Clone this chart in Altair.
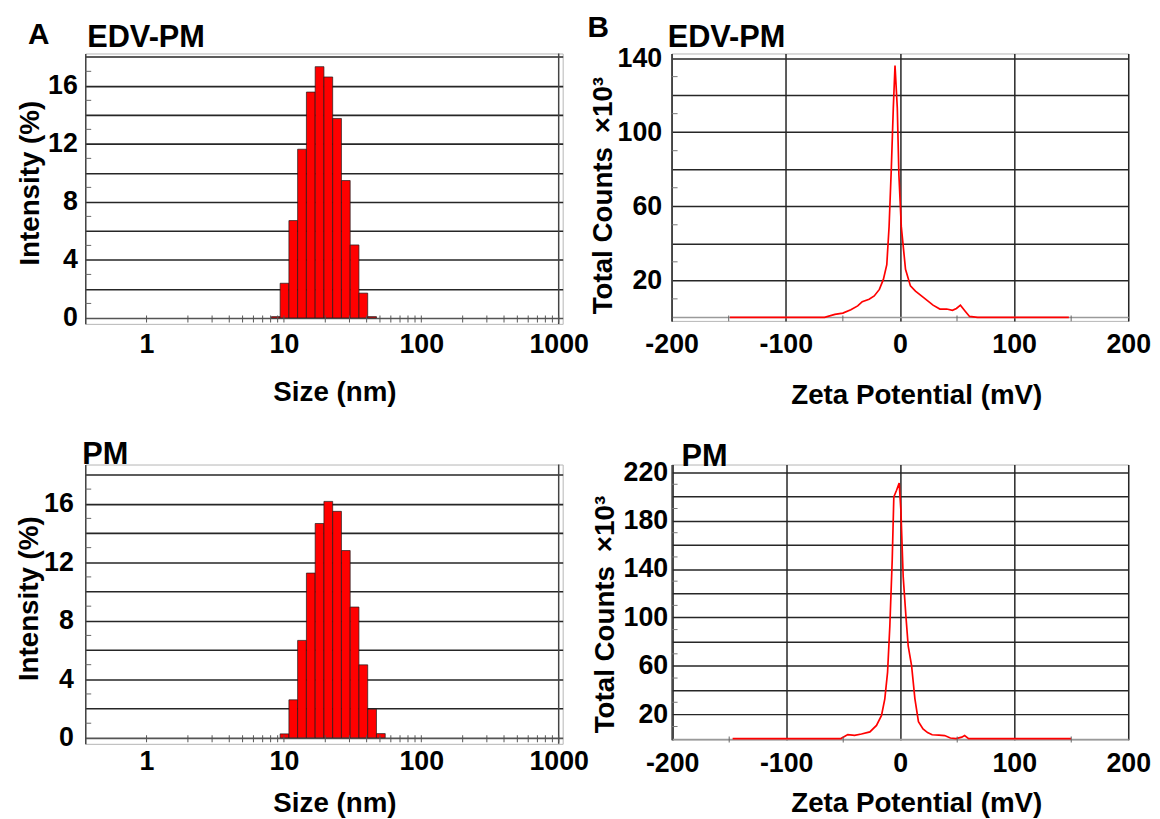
import altair as alt
import pandas as pd

FONT = "Liberation Sans"
RED = "#ff0000"
GRID = "#262626"

# ---------------- data ----------------
# DLS size classes (nm) and intensity (%)
edv_size = [8.72, 10.10, 11.70, 13.54, 15.69, 18.17, 21.04, 24.36, 28.21, 32.67, 37.84, 43.82]
edv_intensity = [0.09, 2.39, 6.71, 11.63, 15.57, 17.32, 16.61, 13.75, 9.47, 5.03, 1.71, 0.09]
pm_size = [10.10, 11.70, 13.54, 15.69, 18.17, 21.04, 24.36, 28.21, 32.67, 37.84, 43.82, 50.75]
pm_intensity = [0.27, 2.60, 6.66, 11.26, 14.65, 16.16, 15.48, 12.80, 8.94, 4.99, 1.96, 0.29]
BIN_HALF = 1.0762  # half-width ratio of a log-spaced size class

# Zeta potential (mV) and total counts (x10^3)
edv_zeta = [-149, -66, -57, -50, -43, -37, -33, -27, -22.5, -18, -14.5, -11.5, -9.5, -7.5, -5.8,
            -4.3, -2.3, -0.9, 1.2, 4.9, 9.2, 13.6, 20.8, 29, 35, 41, 46, 49.5, 53, 57, 61, 68, 148]
edv_counts = [0, 0, 1.6, 2.3, 4.1, 6.2, 8.5, 9.8, 11.6, 15.1, 20.5, 28.5, 48.9, 81, 113,
              136, 113, 77, 49, 26, 17, 14.2, 10.7, 6.6, 4.5, 4.5, 3.8, 4.8, 6.6, 3.5, 0.5, 0, 0]
pm_zeta = [-147, -52, -46, -40, -34, -26.6, -20.8, -16.4, -13.5, -11.1, -9.1, -7.0, -5.6, -3.2,
           -0.9, 0.6, 2.6, 5.0, 7.0, 10.0, 12.9, 16, 20, 24, 28, 34, 39, 44, 49, 54, 56.5, 60, 150]
pm_counts = [0, 0, 3.3, 2.7, 3.8, 5.5, 10.9, 19.1, 32.8, 54.7, 92.9, 147.6, 199.5, 205,
             211, 188.6, 133.9, 101.1, 76.5, 60.1, 32.8, 14, 8, 5, 3.2, 2.8, 2.5, 0.5, 0, 1.2, 2.5, 0, 0]

# ticks / labels
size_tick_labels = [1, 10, 100, 1000]
size_minor_ticks = [m * d for d in (1, 10, 100) for m in range(1, 10)] + [1000]
intensity_grid = list(range(0, 19, 2))
intensity_labels = [0, 4, 8, 12, 16]
intensity_minor = list(range(1, 18, 2))
zeta_grid = [-200, -100, 0, 100, 200]
zeta_minor = [-150, -50, 50, 150]
edv_counts_grid = list(range(0, 141, 20))
edv_counts_labels = [20, 60, 100, 140]
edv_counts_minor = list(range(10, 140, 20))
pm_counts_grid = list(range(0, 221, 20))
pm_counts_labels = [20, 60, 100, 140, 180, 220]
pm_counts_minor = list(range(10, 220, 20))

SIZE_DOMAIN = [0.358, 1069]


def label_expr(vals):
    test = " || ".join(f"datum.value === {v}" for v in vals)
    return f"({test}) ? datum.label : ''"


def grid_color(zero_color):
    return {"condition": {"test": "datum.value === 0", "value": zero_color}, "value": GRID}


def text_layer(txt, x, y, align="left", size=31):
    return alt.Chart(pd.DataFrame({"t": [txt]})).mark_text(
        font=FONT, fontSize=size, fontWeight="bold", align=align,
        baseline="alphabetic", color="black"
    ).encode(text="t:N", x=alt.value(x), y=alt.value(y))


def size_panel(sizes, vals, width, height, ydom, lp_y, tp_y, title_y, lp_x, tp_x, texts):
    xscale = alt.Scale(type="log", domain=SIZE_DOMAIN, nice=False)
    yscale = alt.Scale(domain=ydom, nice=False, zero=False)
    df = pd.DataFrame({"size": sizes, "intensity": vals})
    xaxis = alt.Axis(values=size_tick_labels, format="d", title="Size (nm)", grid=False,
                     ticks=False, domain=False, labelPadding=lp_x, titlePadding=tp_x,
                     titleX=251.6)
    yaxis = alt.Axis(values=intensity_grid, labelExpr=label_expr(intensity_labels),
                     title="Intensity (%)", grid=True, gridColor=grid_color("#555555"),
                     gridWidth=1.6, ticks=False, domain=True, domainColor="#444444",
                     domainWidth=1.5, labelPadding=lp_y, titlePadding=tp_y, titleY=title_y)
    bars = alt.Chart(df).transform_calculate(
        lo=f"datum.size / {BIN_HALF}", hi=f"datum.size * {BIN_HALF}"
    ).mark_bar(color=RED, stroke="#1a1a1a", strokeWidth=0.7).encode(
        x=alt.X("lo:Q", scale=xscale, axis=xaxis),
        x2="hi:Q",
        y=alt.Y("intensity:Q", scale=yscale, axis=yaxis),
        y2=alt.datum(0),
    )
    edge = alt.Chart(pd.DataFrame({"v": [1000]})).mark_rule(color="#444444", strokeWidth=1.5).encode(
        x=alt.X("v:Q", scale=xscale, axis=xaxis))
    xt = alt.Chart(pd.DataFrame({"v": size_minor_ticks})).mark_tick(
        orient="vertical", size=7, thickness=1, color="#555555", opacity=1, yOffset=1
    ).encode(x=alt.X("v:Q", scale=xscale, axis=xaxis), y=alt.YDatum(0, scale=yscale, axis=yaxis))
    yt = alt.Chart(pd.DataFrame({"v": intensity_minor})).mark_tick(
        orient="horizontal", size=6, thickness=1, color="#666666", opacity=1
    ).encode(y=alt.Y("v:Q", scale=yscale, axis=yaxis), x=alt.value(3))
    layers = [bars, edge, xt, yt] + texts
    return alt.layer(*layers).properties(width=width, height=height)


def zeta_panel(xs, ys, width, height, xdom, ydom, grid_vals, lab_vals, minor_vals,
               lp_y, tp_y, title_y, lp_x, tp_x, texts):
    xscale = alt.Scale(domain=xdom, nice=False, zero=False)
    yscale = alt.Scale(domain=ydom, nice=False, zero=False)
    df = pd.DataFrame({"zeta": xs, "counts": ys, "order": list(range(len(xs)))})
    xaxis = alt.Axis(values=zeta_grid, labelExpr="'' + datum.value", title="Zeta Potential (mV)",
                     grid=True, gridColor=GRID, gridWidth=1.5, ticks=False, domain=False,
                     labelPadding=lp_x, titlePadding=tp_x, titleX=247)
    yaxis = alt.Axis(values=grid_vals, labelExpr=label_expr(lab_vals),
                     title="Total Counts\u2002\u00d710\u00b3", grid=True,
                     gridColor=grid_color("#9a9a9a"), gridWidth=1.5, ticks=False,
                     domain=True, domainColor="#444444", domainWidth=1.5,
                     labelPadding=lp_y, titlePadding=tp_y, titleY=title_y)
    line = alt.Chart(df).mark_line(color=RED, strokeWidth=1.7).encode(
        x=alt.X("zeta:Q", scale=xscale, axis=xaxis),
        y=alt.Y("counts:Q", scale=yscale, axis=yaxis),
        order="order:Q",
    )
    xt = alt.Chart(pd.DataFrame({"v": zeta_minor})).mark_tick(
        orient="vertical", size=6, thickness=1, color="#666666", opacity=1, yOffset=1
    ).encode(x=alt.X("v:Q", scale=xscale, axis=xaxis), y=alt.YDatum(0, scale=yscale, axis=yaxis))
    yt = alt.Chart(pd.DataFrame({"v": minor_vals})).mark_tick(
        orient="horizontal", size=6, thickness=1, color="#777777", opacity=1
    ).encode(y=alt.Y("v:Q", scale=yscale, axis=yaxis), x=alt.value(3))
    layers = [line, xt, yt] + texts
    return alt.layer(*layers).properties(width=width, height=height)


tl = size_panel(edv_size, edv_intensity, 482, 273, [-0.41, 18.23], 8, 3, 130.5, 8, 21,
                [text_layer("A", -47, -10, align="center", size=30),
                 text_layer("EDV-PM", 2, -7)])
tr = zeta_panel(edv_zeta, edv_counts, 461, 270, [-200, 200], [-1.9, 142.5],
                edv_counts_grid, edv_counts_labels, edv_counts_minor, 10, 0, 143, 11, 24.5,
                [text_layer("B", -74, -17, align="center", size=30),
                 text_layer("EDV-PM", -4, -7)])
bl = size_panel(pm_size, pm_intensity, 482, 282, [-0.41, 18.68], 12, 0, 135, 5, 15,
                [text_layer("PM", -3, -1)])
br = zeta_panel(pm_zeta, pm_counts, 461, 278, [-200.5, 200], [-1.06, 226.3],
                pm_counts_grid, pm_counts_labels, pm_counts_minor, 4, 4, 151, 11, 13,
                [text_layer("PM", 10, 1)])

chart = alt.concat(
    tl, tr, bl, br, columns=2, spacing={"row": 142, "column": 110}, bounds="flush"
).properties(
    padding={"left": 7, "top": 0, "right": 0, "bottom": 0}
).configure_view(
    stroke="#b5b5b5", strokeWidth=1
).configure_axis(
    labelFont=FONT, labelFontSize=27, labelFontWeight="bold", labelColor="black",
    titleFont=FONT, titleFontSize=28, titleFontWeight="bold", titleColor="black",
    labelFlush=False, labelOverlap=False
)

chart.save("out.html", embed_options={"renderer": "svg", "actions": False})
